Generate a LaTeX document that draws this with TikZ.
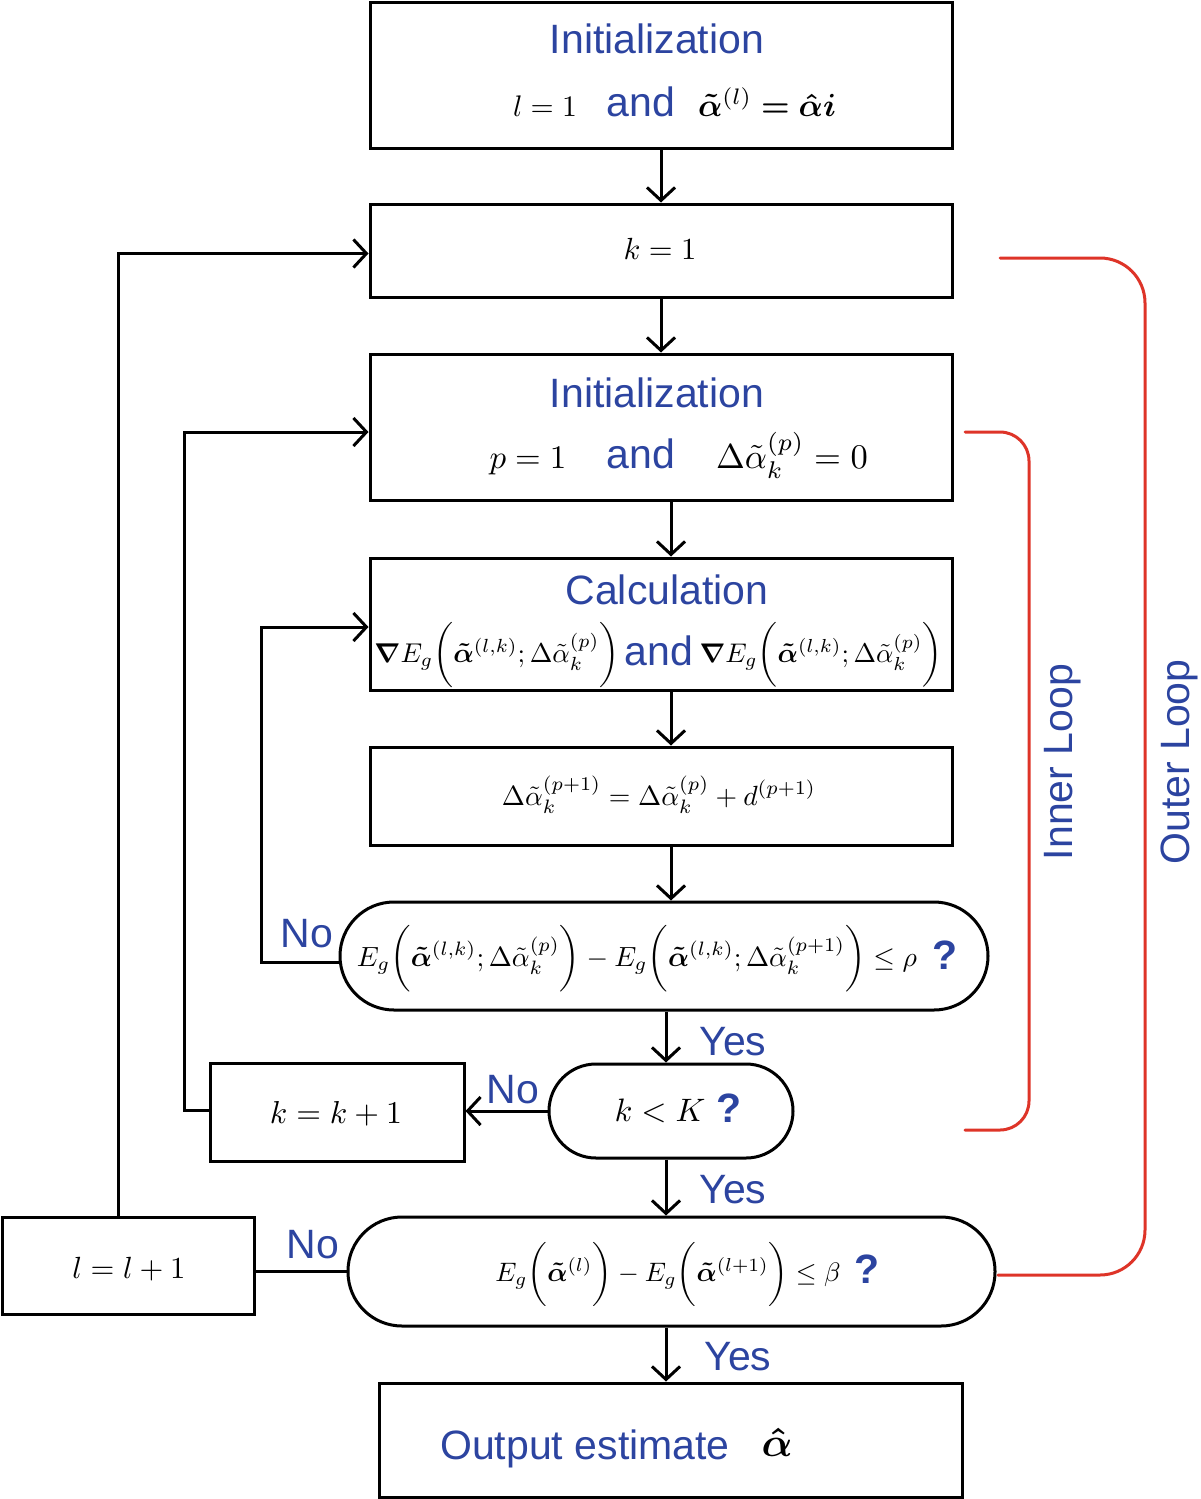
\documentclass[tikz,border=0pt]{standalone}
\usepackage{amsmath}
\usepackage{bm}
\usepackage[no-math]{fontspec}
\setmainfont{Liberation Sans}
\usepackage{graphicx}
\usetikzlibrary{arrows.meta,calc}
\definecolor{tblue}{RGB}{44,68,160}
\definecolor{tred}{RGB}{222,52,40}
\newcommand\fw[2]{\resizebox{#1}{!}{#2}}
\tikzset{
  box/.style={draw, line width=1.5pt, rectangle, inner sep=0pt},
  arr/.style={line width=1.5pt, -{Straight Barb[length=6.5pt,width=14pt]}},
  plain/.style={line width=1.5pt},
  bt/.style={text=tblue, font=\fontsize{20.5}{24}\selectfont, inner sep=0pt},
  qm/.style={text=tblue, font=\fontsize{20.5}{24}\selectfont\bfseries, inner sep=0pt, anchor=base},
  mt/.style={inner sep=0pt, anchor=base},
  loopline/.style={draw=tred, line width=1.5pt, line cap=round}
}
\begin{document}
\begin{tikzpicture}[x=0.5pt,y=-0.5pt]
\useasboundingbox (0,0) rectangle (1200,1499);
% boxes
\node[box,minimum width=291pt,minimum height=73pt] (init1) at (661,75) {};
\node[box,minimum width=291pt,minimum height=46.5pt] (k1) at (661,250.5) {};
\node[box,minimum width=291pt,minimum height=73pt] (init2) at (661,427) {};
\node[box,minimum width=291pt,minimum height=66pt] (calc) at (661,624) {};
\node[box,minimum width=291pt,minimum height=49pt] (upd) at (661,796) {};
\node[box,rounded corners=27pt,minimum width=324pt,minimum height=54pt] (dec1) at (664,956) {};
\node[box,minimum width=127pt,minimum height=49pt] (kk) at (337,1112) {};
\node[box,rounded corners=23.5pt,minimum width=122pt,minimum height=47pt] (dec2) at (671,1111) {};
\node[box,minimum width=126pt,minimum height=48.5pt] (ll) at (128,1265.5) {};
\node[box,rounded corners=27pt,minimum width=323.5pt,minimum height=54.5pt] (dec3) at (671.5,1271.5) {};
\node[box,minimum width=291.5pt,minimum height=57pt] (out) at (670.5,1440) {};

% texts
\node[bt,anchor=base] (t1) at (657,54) {Initialization};
\node[mt] (m1a) at (545,116) {\fw{32pt}{$l=1$}};
\node[bt,anchor=base] (and1) at (641,116) {and};
\node[mt] (m1b) at (767,116) {\fw{69pt}{$\bm{\tilde\alpha}^{(l)}\boldsymbol{=}\bm{\hat\alpha}\bm{i}$}};

\node[mt] (m2) at (660,259) {\fw{36.5pt}{$k=1$}};

\node[bt,anchor=base] (t2) at (657,407) {Initialization};
\node[mt] (m3a) at (528,468) {\fw{38.5pt}{$p=1$}};
\node[bt,anchor=base] (and2) at (641,468) {and};
\node[mt] (m3b) at (792,468) {\fw{76pt}{$\Delta\tilde\alpha_k^{(p)}=0$}};

\node[bt,anchor=base] (t3) at (667,604) {Calculation};
\node[mt] (m4a) at (497,662) {\fw{122.5pt}{$\bm{\nabla} E_g\biggl(\bm{\tilde\alpha}^{(l,k)};\Delta\tilde\alpha_k^{(p)}\biggr)$}};
\node[bt,anchor=base] (and3) at (659,665) {and};
\node[mt] (m4b) at (821,662) {\fw{121.5pt}{$\bm{\nabla} E_g\biggl(\bm{\tilde\alpha}^{(l,k)};\Delta\tilde\alpha_k^{(p)}\biggr)$}};

\node[mt] (m5) at (659,805) {\fw{157pt}{$\Delta\tilde\alpha_k^{(p+1)}=\Delta\tilde\alpha_k^{(p)}+d^{(p+1)}$}};

\node[mt] (m6) at (637,966) {\fw{280pt}{$E_g\biggl(\bm{\tilde\alpha}^{(l,k)};\Delta\tilde\alpha_k^{(p)}\biggr)-E_g\biggl(\bm{\tilde\alpha}^{(l,k)};\Delta\tilde\alpha_k^{(p+1)}\biggr)\le\rho$}};
\node[qm] (q1) at (945,969) {?};

\node[mt] (m7) at (660,1121) {\fw{45.5pt}{$k<K$}};
\node[qm] (q2) at (729,1122) {?};

\node[mt] (m8) at (336,1123) {\fw{66pt}{$k=k+1$}};
\node[mt] (m9) at (129,1278) {\fw{56.5pt}{$l=l+1$}};

\node[mt] (m10) at (668,1281) {\fw{172.5pt}{$E_g\biggl(\bm{\tilde\alpha}^{(l)}\biggr)-E_g\biggl(\bm{\tilde\alpha}^{(l+1)}\biggr)\le\beta$}};
\node[qm] (q3) at (867,1283) {?};

\node[bt,anchor=base] (t4) at (585,1459) {Output estimate};
\node[mt] (m11) at (777,1456) {\fw{15.5pt}{$\bm{\hat\alpha}$}};

% yes/no labels
\node[bt,anchor=base] (no1) at (307,947) {No};
\node[bt,anchor=base] (yes1) at (733,1055) {Yes};
\node[bt,anchor=base] (no2) at (513,1103) {No};
\node[bt,anchor=base] (yes2) at (733,1203) {Yes};
\node[bt,anchor=base] (no3) at (313,1258) {No};
\node[bt,anchor=base] (yes3) at (738,1370) {Yes};

% loop labels
\node[bt,rotate=90] (inner) at (1063,762) {Inner Loop};
\node[bt,rotate=90] (outer) at (1179,762) {Outer Loop};

% helper coordinates
\coordinate (x661) at (661,0);
\coordinate (x671) at (671,0);
\coordinate (x666) at (666,0);

% vertical arrows
\draw[arr] (init1.south -| x661) -- (k1.north -| x661);
\draw[arr] (k1.south -| x661) -- (init2.north -| x661);
\draw[arr] (init2.south -| x671) -- (calc.north -| x671);
\draw[arr] (calc.south -| x671) -- (upd.north -| x671);
\draw[arr] (upd.south -| x671) -- (dec1.north -| x671);
\draw[arr] (dec1.south -| x666) -- (dec2.north -| x666);
\draw[arr] (dec2.south -| x666) -- (dec3.north -| x666);
\draw[arr] (dec3.south -| x666) -- (out.north -| x666);

% horizontal / loop connectors
\draw[arr] (dec2.west) -- (dec2.west -| kk.east);
\draw[plain] (dec3.west) -- (dec3.west -| ll.east);
\draw[arr] ([yshift=-3pt]dec1.west) -- ++(-77,0) |- ([yshift=-1.5pt]calc.west);
\draw[arr] ([yshift=1pt]kk.west) -- ++(-24,0) |- ([yshift=-2.5pt]init2.west);
\draw[arr] ([xshift=-5pt]ll.north) |- ([yshift=-1.5pt]k1.west);

% red brackets
\draw[loopline, rounded corners=22.5pt] (1000,258) -- (1145,258) -- (1145,1275) -- (998,1275);
\draw[loopline, rounded corners=14.5pt] (965,432) -- (1029,432) -- (1029,1130) -- (965,1130);
\end{tikzpicture}
\end{document}
